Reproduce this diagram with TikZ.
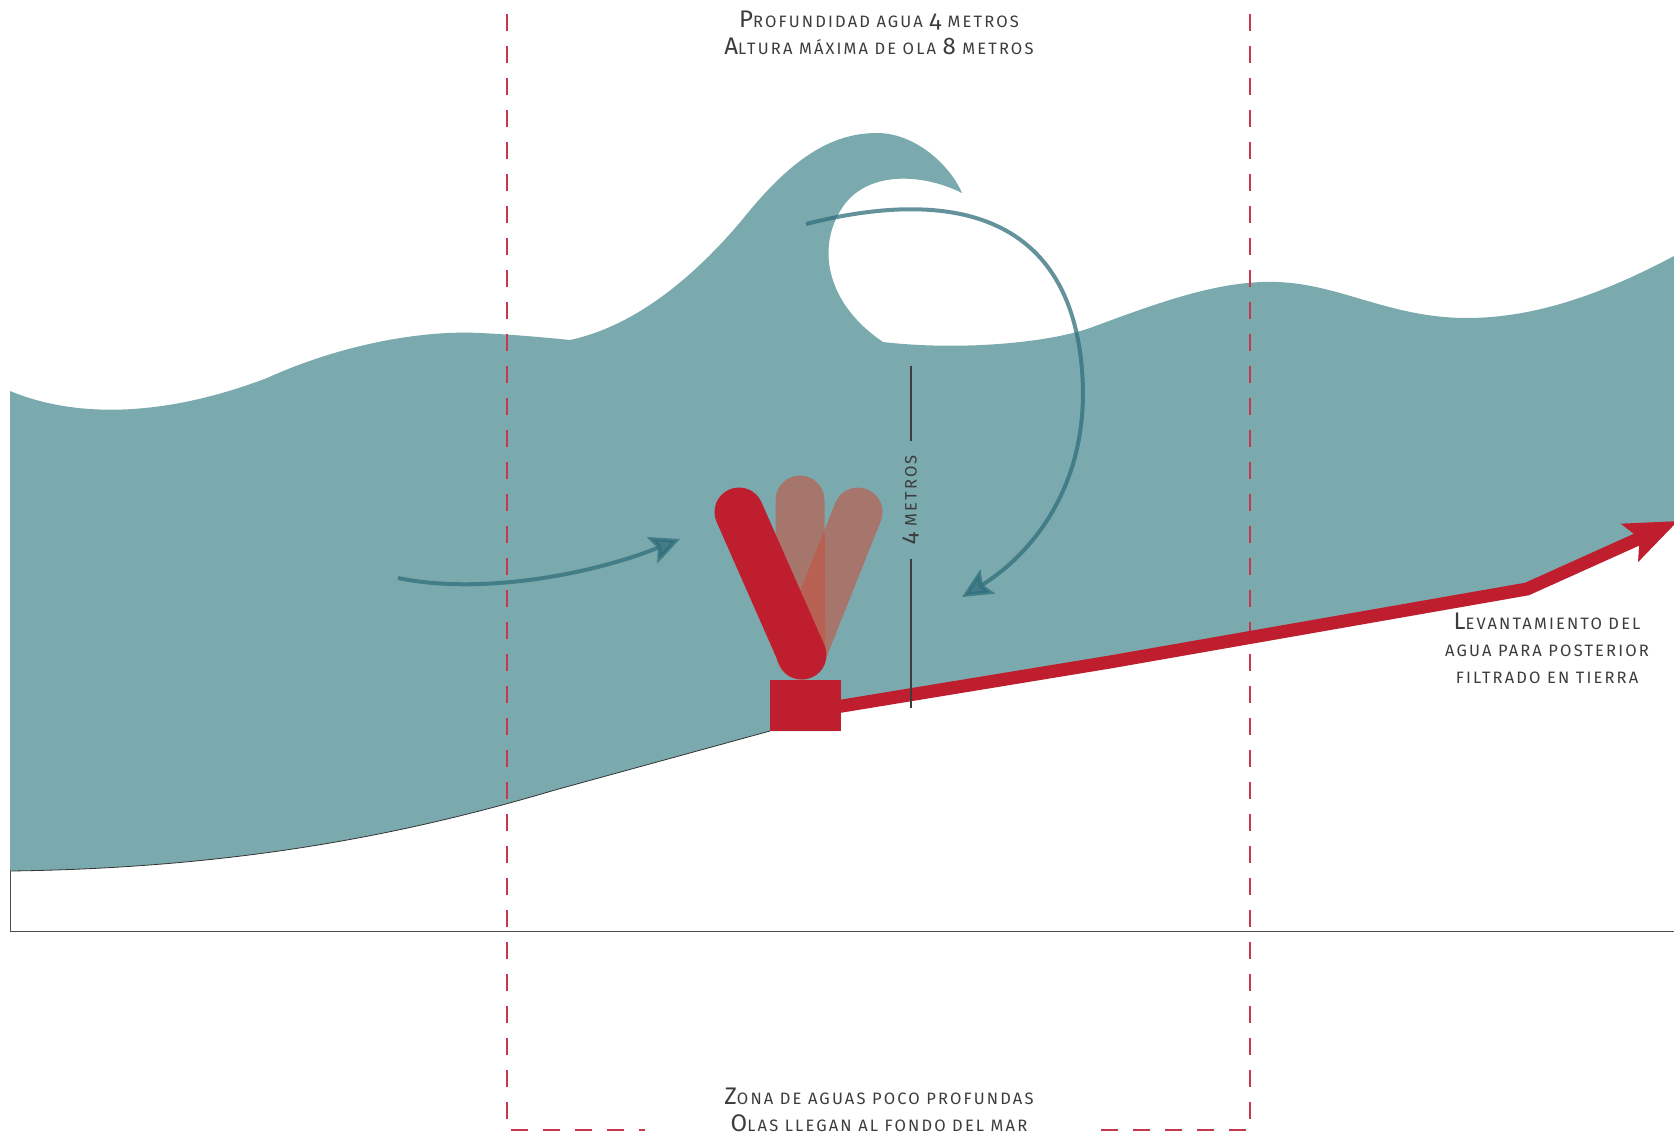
\documentclass[tikz,border=0pt]{standalone}
\usepackage{fontspec}
\setmainfont{Fira Sans}[LetterSpace=13, Numbers=OldStyle]
\usetikzlibrary{arrows.meta}

\definecolor{sea}{RGB}{123,170,174}
\definecolor{crimson}{RGB}{190,30,45}
\definecolor{ghost}{RGB}{196,84,66}
\definecolor{flow}{RGB}{47,110,124}
\definecolor{zone}{RGB}{200,55,75}
\definecolor{ink}{RGB}{60,60,60}

% full-size capital inside small-cap lettering
\newcommand\capl{\fontsize{24}{27}\selectfont}

\tikzset{
  txt/.style={text=ink, align=center, inner sep=0pt,
    font=\fontsize{16.5}{27}\selectfont},
  zoneline/.style={draw=zone, line width=2pt, dash pattern=on 17pt off 15pt},
  flowarrow/.style={draw=flow, line width=4pt, opacity=0.75,
    -{Stealth[length=30pt, width=28pt, inset=6pt]}},
  paddle/.style={line width=49pt, line cap=round},
  ghostpaddle/.style={paddle, draw=ghost, opacity=0.6},
  pipe/.style={draw=crimson, line width=13pt, line cap=round,
    -{Stealth[length=52pt, width=40pt, inset=10pt]}},
  rule/.style={draw=ink, line width=1.5pt},
}

\begin{document}
\begin{tikzpicture}[x=1pt, y=-1pt]
\useasboundingbox (0,0) rectangle (1674,1137);

% sea body: surface with breaking crest, right side along the pipe, seabed on the left
\fill[sea]
  (10,391) .. controls (80,420) and (170,415) .. (267,378)
  .. controls (340,345) and (420,330) .. (480,333)
  .. controls (520,335) and (550,338) .. (570,340)
  % rising face of the breaker
  .. controls (640,325) and (700,270) .. (742,220)
  .. controls (790,160) and (830,133) .. (877,133)
  .. controls (915,133) and (950,165) .. (962,193)
  % inner curl
  .. controls (920,172) and (860,170) .. (838,215)
  .. controls (818,252) and (828,305) .. (883,342)
  % trailing swell
  .. controls (950,350) and (1040,345) .. (1090,328)
  .. controls (1160,302) and (1220,280) .. (1277,282)
  .. controls (1340,284) and (1390,318) .. (1467,318)
  .. controls (1540,318) and (1610,290) .. (1674,256)
  -- (1674,525) -- (1527,589) -- (1110,662) -- (836,707) -- (836,731) -- (770,731)
  -- (555,790) .. controls (420,830) and (250,868) .. (10,871) -- cycle;

% seabed profile and ground frame
\draw[black!80, line width=0.8pt] (10,871) .. controls (250,868) and (420,830) .. (555,790) -- (770,731);
\draw[black!70, line width=0.8pt] (10,871) -- (10,931) -- (1674,931);

% swinging paddle: two faded positions and the current one
\coordinate (pivot) at (801,655);
\coordinate (upright) at (800,500);
\coordinate (forward) at (858,512);
\coordinate (back) at (739,512);
\draw[ghostpaddle] (pivot) -- (upright);
\draw[ghostpaddle] (pivot) -- (forward);
\draw[paddle, draw=crimson] (back) -- (802,655);

% water motion arrows
\coordinate (inA) at (398,578);
\coordinate (inB) at (680,539);
\draw[flowarrow] (inA) .. controls (480,595) and (590,575) .. (inB);
\coordinate (curlA) at (806,224);
\coordinate (curlM) at (1082,370);
\coordinate (curlB) at (962,597);
\draw[flowarrow] (curlA) .. controls (960,185) and (1070,220) .. (curlM)
  .. controls (1092,495) and (1020,562) .. (curlB);

% shallow-water zone limits
\draw[zoneline] (507,14) -- (507,1130) -- (645,1130);
\draw[zoneline] (1250,14) -- (1250,1130) -- (1098,1130);

% pump housing and delivery pipe
\node[fill=crimson, minimum width=71pt, minimum height=51pt, inner sep=0pt] (pump) at (805.5,705.5) {};
\coordinate (outlet) at (836,707);
\coordinate (bend1) at (1110,662);
\coordinate (bend2) at (1527,589);
\coordinate (shore) at (1678,521);
\draw[pipe] (outlet) -- (bend1) -- (bend2) -- (shore);

% depth scale
\node[txt, rotate=90, outer sep=14pt] (depthlbl) at (911,500) {{\capl 4} METROS};
\coordinate (scaleTop) at (911,366);
\coordinate (scaleBot) at (911,708);
\draw[rule] (scaleTop) -- (depthlbl.east);
\draw[rule] (depthlbl.west) -- (scaleBot);

% captions
\node[txt] (head) at (879,33) {{\capl P}ROFUNDIDAD AGUA {\capl 4} METROS\\{\capl A}LTURA MÁXIMA DE OLA {\capl 8} METROS};
\node[txt] (zonecap) at (879,1110) {{\capl Z}ONA DE AGUAS POCO PROFUNDAS\\{\capl O}LAS LLEGAN AL FONDO DEL MAR};
\node[txt] (pipecap) at (1547,648) {{\capl L}EVANTAMIENTO DEL\\AGUA PARA POSTERIOR\\FILTRADO EN TIERRA};
\end{tikzpicture}
\end{document}
